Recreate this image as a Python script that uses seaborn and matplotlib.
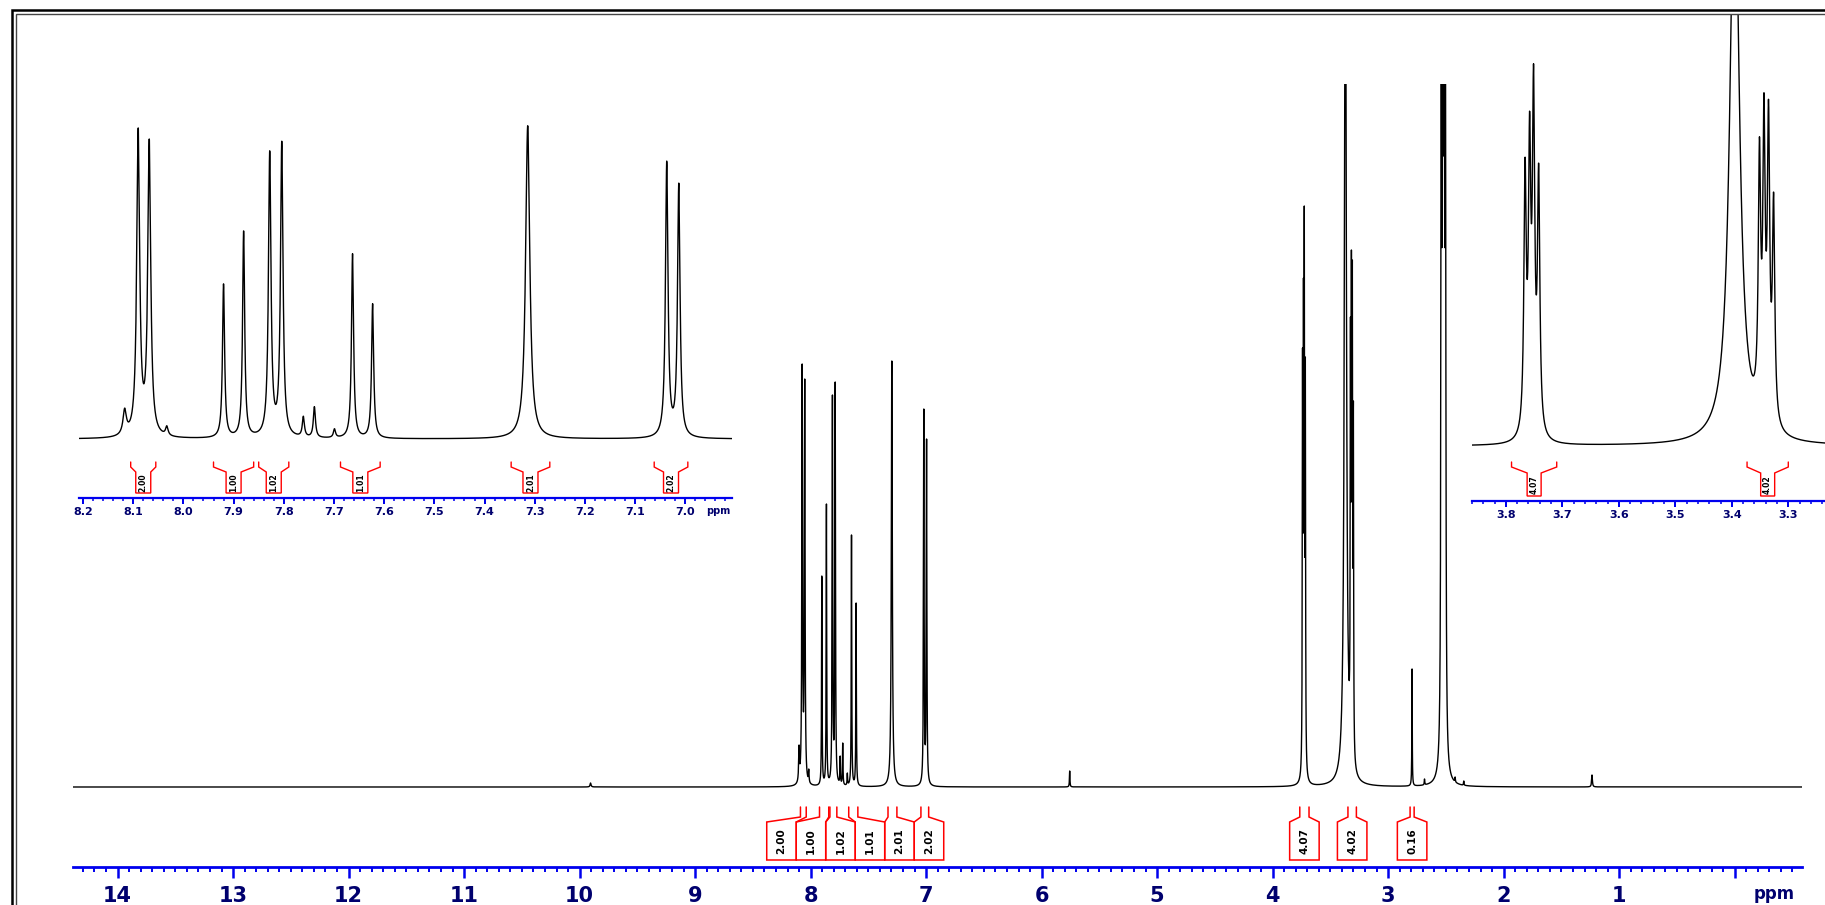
"""
1H NMR spectrum with two zoomed insets (aromatic and 3.x ppm regions).
Saves out.png (1825 x 905 px).
"""
import matplotlib
matplotlib.use("Agg")
import matplotlib.pyplot as plt
import matplotlib.transforms as mtrans
from matplotlib.lines import Line2D
from matplotlib.ticker import FixedLocator, MultipleLocator
import numpy as np
import pandas as pd
import seaborn as sns

W, H, DPI = 1825, 905, 100

# peak list (ppm on the main scale, apparent height, linewidth in ppm)
PEAK_PPM = [8.100, 8.073, 8.051, 8.016, 7.903, 7.863, 7.811, 7.787, 7.744, 7.722,
            7.682, 7.646, 7.606, 7.297, 7.020, 6.996,
            9.905, 5.757,
            3.741, 3.733, 3.726, 3.717, 3.370, 3.326, 3.318, 3.310, 3.301,
            2.793, 2.685, 2.540, 2.528, 2.516, 2.504, 2.420, 2.345, 1.235]
PEAK_HEIGHT = [42, 423, 408, 18, 211, 283, 392, 405, 31, 44,
               14, 252, 184, 426, 378, 348,
               4, 16,
               439, 509, 581, 430, 900, 470, 537, 527, 386,
               118, 8, 800, 1100, 1100, 800, 10, 6, 12]
PEAK_WIDTH = [0.008, 0.007, 0.007, 0.006, 0.005, 0.005, 0.006, 0.006, 0.005, 0.005,
              0.005, 0.005, 0.005, 0.010, 0.006, 0.006,
              0.010, 0.005,
              0.005, 0.005, 0.005, 0.005, 0.020, 0.005, 0.005, 0.005, 0.005,
              0.004, 0.005, 0.008, 0.008, 0.008, 0.008, 0.005, 0.005, 0.008]

# integral regions and their printed values
INTEGRAL_FROM = [8.088, 7.923, 7.833, 7.670, 7.330, 7.045, 3.765, 3.348, 2.810]
INTEGRAL_TO = [8.038, 7.843, 7.773, 7.591, 7.253, 6.978, 3.685, 3.275, 2.775]
INTEGRAL_LABEL = ["2.00", "1.00", "1.02", "1.01", "2.01", "2.02", "4.07", "4.02", "0.16"]

MAIN_TICKS = [14, 13, 12, 11, 10, 9, 8, 7, 6, 5, 4, 3, 2, 1, 0]
MAIN_TICK_LABELS = ["14", "13", "12", "11", "10", "9", "8", "7", "6", "5", "4", "3", "2", "1", ""]
LEFT_TICKS = [8.2, 8.1, 8.0, 7.9, 7.8, 7.7, 7.6, 7.5, 7.4, 7.3, 7.2, 7.1, 7.0]
RIGHT_TICKS = [3.8, 3.7, 3.6, 3.5, 3.4, 3.3]

# insets are drawn on a slightly different referencing than the main trace
LEFT_SHIFT = 0.017
RIGHT_SHIFT = 0.025

BLUE = "#0000ee"
NAVY = "#00006e"
RED = "#ff0000"

sns.set_theme(style="white")
plt.rcParams["font.family"] = ["DejaVu Sans"]


def lorentz(x, c, w):
    return (w / 2) ** 2 / ((x - c) ** 2 + (w / 2) ** 2)


def line_amplitudes():
    c = np.array(PEAK_PPM)
    w = np.array(PEAK_WIDTH)
    m = lorentz(c[:, None], c[None, :], w[None, :])
    amp = np.linalg.solve(m, np.array(PEAK_HEIGHT, dtype=float))
    return np.clip(amp, 0, None)


AMP = line_amplitudes()


def spectrum(lo, hi, step):
    x = np.union1d(np.arange(lo, hi, step), [p for p in PEAK_PPM if lo <= p <= hi])
    y = np.zeros_like(x)
    for c, w, a in zip(PEAK_PPM, PEAK_WIDTH, AMP):
        y += a * lorentz(x, c, w)
    return pd.DataFrame({"ppm": x, "intensity": y})


def px_axes(fig, left, right, top, bottom):
    ax = fig.add_axes([left / W, 1 - bottom / H, (right - left) / W, (bottom - top) / H])
    ax.set_facecolor("none")
    for side in ["top", "left", "right"]:
        ax.spines[side].set_visible(False)
    ax.spines["bottom"].set_color(BLUE)
    ax.set_yticks([])
    return ax


def style_ruler(ax, lw, major_len, minor_len, pad, fontsize):
    ax.spines["bottom"].set_linewidth(lw)
    ax.tick_params(axis="x", which="major", direction="out", length=major_len,
                   width=lw * 0.9, color=BLUE, pad=pad, labelsize=fontsize,
                   labelcolor=NAVY, bottom=True)
    ax.tick_params(axis="x", which="minor", direction="out", length=minor_len,
                   width=lw * 0.7, color=BLUE, bottom=True)
    for lab in ax.get_xticklabels():
        lab.set_fontweight("bold")


def spread(pos, width):
    pos = list(pos)
    for _ in range(500):
        moved = False
        for i in range(len(pos) - 1):
            gap = pos[i + 1] - pos[i]
            if gap < width - 1e-6:
                d = (width - gap) / 2
                pos[i] -= d
                pos[i + 1] += d
                moved = True
        if not moved:
            break
    return pos


def draw_integrals(ax, shift, box_w, levels, fontsize, lw):
    hook_top, knee, box_top, box_bot = levels
    fig = ax.figure
    bbox = ax.get_window_extent(fig.canvas.get_renderer())
    wpx, hpx = bbox.width, bbox.height
    x0, x1 = ax.get_xlim()
    ppm_px = (x0 - x1) / wpx
    items = []
    for a, b, lab in zip(INTEGRAL_FROM, INTEGRAL_TO, INTEGRAL_LABEL):
        a, b = a + shift, b + shift
        mid = (a + b) / 2
        if x1 < mid < x0:
            items.append(((x0 - mid) / ppm_px, a, b, lab))
    items.sort()
    centers = spread([it[0] for it in items], box_w)
    tr = mtrans.blended_transform_factory(ax.transData, ax.transAxes)

    def fy(p):
        return p / hpx

    for cpx, (_, a, b, lab) in zip(centers, items):
        bl = x0 - (cpx - box_w / 2) * ppm_px
        br = x0 - (cpx + box_w / 2) * ppm_px
        bc = x0 - cpx * ppm_px
        ax.plot([a, a, bl, bl, br, br, b, b],
                [fy(hook_top), fy(knee), fy(box_top), fy(box_bot), fy(box_bot),
                 fy(box_top), fy(knee), fy(hook_top)],
                color=RED, lw=lw, transform=tr, clip_on=False, solid_joinstyle="miter")
        ax.text(bc, fy((box_top + box_bot) / 2), lab, rotation=90, ha="center",
                va="center", fontsize=fontsize, fontweight="bold", color="black",
                transform=tr)


fig = plt.figure(figsize=(W / DPI, H / DPI), dpi=DPI)
fig.patch.set_facecolor("white")

# main spectrum
ax = px_axes(fig, 73, 1802, 84, 867)
main = spectrum(-0.6, 14.4, 0.0005)
sns.lineplot(data=main, x="ppm", y="intensity", ax=ax, color="black", lw=1.0,
             estimator=None, sort=False)
ax.set_xlim(14.386, -0.583)
ax.set_ylim(-80, 703)
ax.xaxis.set_major_locator(FixedLocator(MAIN_TICKS))
ax.set_xticklabels(MAIN_TICK_LABELS)
ax.xaxis.set_minor_locator(MultipleLocator(0.1))
ax.set_xlabel("")
ax.set_ylabel("")
style_ruler(ax, 2.0, 8, 3.6, 6, 15)
ax.text(-0.34, -27 / 783, "ppm", transform=mtrans.blended_transform_factory(ax.transData, ax.transAxes),
        ha="center", va="center", fontsize=12, fontweight="bold", color=NAVY)

# left inset: aromatic region
axl = px_axes(fig, 79, 732, 100, 498)
left = spectrum(6.85, 8.25, 0.0002)
left["ppm"] = left["ppm"] + LEFT_SHIFT
sns.lineplot(data=left, x="ppm", y="intensity", ax=axl, color="black", lw=1.0,
             estimator=None, sort=False)
axl.set_xlim(8.208, 6.907)
axl.set_ylim(-59 * 1.36, (398 - 59) * 1.36)
axl.xaxis.set_major_locator(FixedLocator(LEFT_TICKS))
axl.set_xticklabels([f"{t:.1f}" for t in LEFT_TICKS])
axl.xaxis.set_minor_locator(MultipleLocator(0.02))
axl.set_xlabel("")
axl.set_ylabel("")
style_ruler(axl, 1.6, 4.3, 2.2, 2, 8)
axl.text(6.935, -13 / 398, "ppm", transform=mtrans.blended_transform_factory(axl.transData, axl.transAxes),
         ha="center", va="center", fontsize=7, fontweight="bold", color=NAVY)

# right inset: 3.2 - 3.9 ppm
axr = px_axes(fig, 1472, 1825, 14, 501)
right = spectrum(3.15, 3.9, 0.0002)
right["ppm"] = right["ppm"] + RIGHT_SHIFT
sns.lineplot(data=right, x="ppm", y="intensity", ax=axr, color="black", lw=1.0,
             estimator=None, sort=False)
axr.set_xlim(3.860, 3.235)
axr.set_ylim(-55 * 1.52, (487 - 55) * 1.52)
axr.xaxis.set_major_locator(FixedLocator(RIGHT_TICKS))
axr.set_xticklabels([f"{t:.1f}" for t in RIGHT_TICKS])
axr.xaxis.set_minor_locator(MultipleLocator(0.02))
axr.set_xlabel("")
axr.set_ylabel("")
style_ruler(axr, 1.6, 4.3, 2.2, 2, 8)

for a in (ax, axl, axr):
    legend = a.get_legend()
    if legend is not None:
        legend.remove()

fig.canvas.draw()
draw_integrals(ax, 0.0, 29.5, (60, 50, 45, 7), 7.5, 1.1)
draw_integrals(axl, LEFT_SHIFT, 15, (36, 31, 26, 5), 5.5, 1.0)
draw_integrals(axr, RIGHT_SHIFT, 14, (39, 34, 28, 5), 5.5, 1.0)

# double frame round the page
def fig_line(xs, ys, **kw):
    fig.add_artist(Line2D([x / W for x in xs], [1 - y / H for y in ys],
                          transform=fig.transFigure, **kw))


fig_line([11.5, 11.5, W + 5], [H + 5, 10, 10], color="black", lw=1.8, solid_joinstyle="miter")
fig_line([15.5, 15.5, W + 5], [H + 5, 14.5, 14.5], color="#444444", lw=1.0, solid_joinstyle="miter")

fig.savefig("out.png", dpi=DPI, facecolor="white")
